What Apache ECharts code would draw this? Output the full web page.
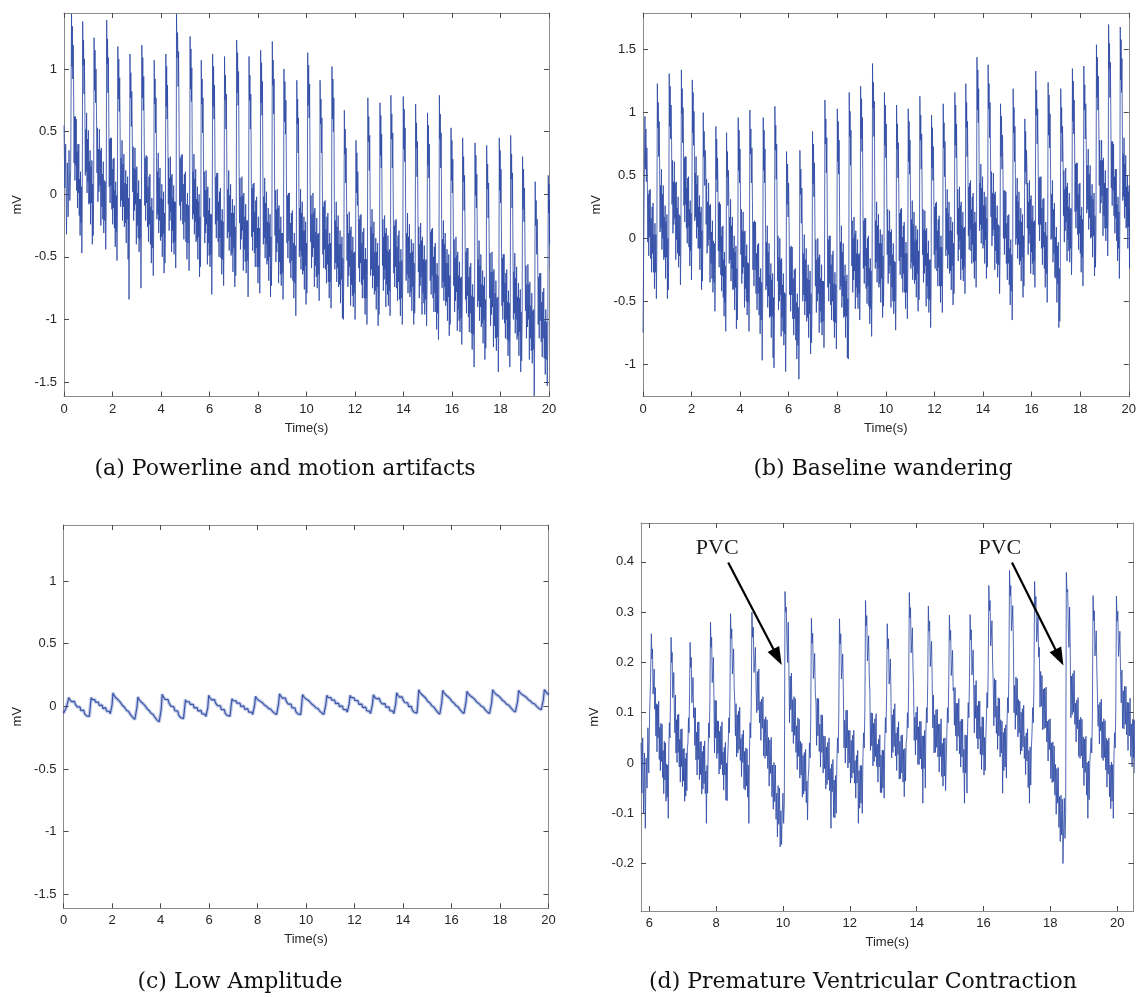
<!DOCTYPE html>
<html>
<head>
<meta charset="utf-8">
<script src="https://cdn.jsdelivr.net/npm/echarts@6/dist/echarts.min.js"></script>
<style>
  html, body { margin: 0; padding: 0; background: #ffffff; }
  #chart { width: 1139px; height: 997px; }
</style>
</head>
<body>
<div id="chart"></div>
<script>
// ---------------------------------------------------------------------------
// ECG records. Each record is a list of segment boundaries (s) and one row of
// samples (mV) per segment: the first row runs from the record start to the
// first R peak, every other row starts at an R peak and runs to the next one.
// ---------------------------------------------------------------------------

// (a) Powerline and motion artifacts
const boundsA = [0, 0.31, 0.77, 1.24, 1.76, 2.22, 2.72, 3.21, 3.72, 4.20, 4.64, 5.20, 5.66, 6.13, 6.62,
  7.12, 7.63, 8.11, 8.59, 9.07, 9.60, 10.05, 10.56, 11.05, 11.56, 12.04, 12.53, 13.03, 13.48, 13.99,
  14.50, 14.99, 15.48, 15.96, 16.44, 16.95, 17.43, 17.95, 18.42, 18.91, 19.43, 19.97, 20.10];
const waveA = [
  [.55,.05,.40,-.32,.25,-.18,.35,-.05,.20],
  [1.44,1.02,1.34,.92,1.19,.80,.25,.62,.11,.62,.23,.60,.03,.34,-.11,.40,.01,.40,-.17,.12,-.33,.18,-.23,.06,-.47,-.10],
  [1.38,1.03,1.23,.80,1.08,.70,.15,.52,.18,.65,.01,.44,.10,.51,-.08,.26,-.07,.35,-.24,.22,-.07,.27,-.40,.08,-.33,-.03],
  [1.25,.83,1.15,.73,1.00,.67,.17,.53,-.06,.36,.02,.52,.07,.35,-.25,.37,-.10,.16,-.20,.26,-.31,.11,-.21,.10,-.44,-.14],
  [1.39,1.04,1.24,.81,1.09,.60,.06,.44,-.07,.45,.07,.45,-.12,.20,-.24,.28,-.11,.29,-.27,.03,-.42,.10,-.30,-.01,-.53,-.15],
  [1.18,.76,1.08,.66,.93,.45,-.10,.29,-.05,.43,-.21,.24,-.10,.32,-.26,.09,-.23,.19,-.39,.08,-.20,.14,-.52,-.03,-.84,-.13],
  [1.12,.77,.97,.54,.82,.52,.02,.38,-.21,.21,-.13,.37,-.08,.20,-.40,.22,-.25,.01,-.35,.11,-.46,-.04,-.36,-.04,-.75,-.29],
  [1.19,.77,1.09,.67,.94,.45,-.09,.29,-.21,.31,-.07,.30,-.26,.06,-.38,.14,-.24,.16,-.40,-.10,-.55,-.03,-.43,-.13,-.65,-.27],
  [1.07,.72,.92,.49,.77,.35,-.20,.18,-.16,.33,-.31,.13,-.21,.21,-.37,-.03,-.34,.08,-.50,-.04,-.32,.02,-.63,-.15,-.55,-.25],
  [1.12,.70,1.02,.60,.87,.42,-.08,.29,-.29,.13,-.21,.30,-.14,.14,-.46,.16,-.29,-.03,-.39,.07,-.48,-.06,-.38,-.06,-.59,-.29],
  [1.44,1.09,1.29,.86,1.14,.45,-.09,.29,-.21,.31,-.06,.32,-.24,.08,-.36,.16,-.22,.18,-.38,-.08,-.52,.01,-.39,-.09,-.61,-.23],
  [1.26,.84,1.16,.74,1.01,.35,-.20,.18,-.16,.32,-.32,.12,-.22,.20,-.38,-.04,-.36,.06,-.52,-.06,-.34,.00,-.66,-.18,-.58,-.28],
  [1.07,.72,.92,.49,.77,.32,-.18,.18,-.39,.03,-.31,.19,-.24,.04,-.56,.06,-.39,-.13,-.49,-.03,-.58,-.16,-.48,-.16,-.80,-.39],
  [1.12,.70,1.02,.60,.87,.30,-.24,.14,-.35,.17,-.21,.17,-.38,-.06,-.50,.02,-.35,.05,-.51,-.21,-.64,-.12,-.52,-.22,-.73,-.35],
  [1.10,.75,.95,.52,.80,.20,-.35,.04,-.30,.19,-.45,-.01,-.34,.08,-.49,-.15,-.47,-.04,-.62,-.15,-.43,-.09,-.74,-.26,-.65,-.35],
  [1.23,.81,1.13,.71,.98,.27,-.23,.13,-.44,-.02,-.36,.14,-.29,-.01,-.61,.01,-.44,-.18,-.54,-.08,-.63,-.21,-.53,-.21,-.82,-.44],
  [1.10,.75,.95,.52,.80,.20,-.34,.05,-.45,.08,-.30,.09,-.47,-.14,-.58,-.05,-.43,-.02,-.58,-.27,-.71,-.18,-.58,-.27,-.79,-.40],
  [1.15,.73,1.05,.63,.90,.15,-.40,-.02,-.35,.13,-.51,-.07,-.40,.02,-.56,-.22,-.53,-.11,-.69,-.23,-.50,-.16,-.82,-.34,-.73,-.43],
  [1.22,.87,1.07,.64,.92,.17,-.33,.03,-.54,-.12,-.46,.04,-.39,-.11,-.71,-.09,-.54,-.28,-.64,-.18,-.73,-.31,-.63,-.31,-.84,-.54],
  [1.00,.58,.90,.48,.75,.15,-.39,-.01,-.51,.01,-.37,.01,-.55,-.23,-.67,-.15,-.53,-.13,-.69,-.39,-.83,-.31,-.71,-.41,-.97,-.55],
  [.91,.56,.76,.33,.61,.05,-.50,-.11,-.45,.04,-.60,-.15,-.49,-.06,-.64,-.29,-.61,-.18,-.76,-.29,-.57,-.22,-.88,-.39,-.79,-.48],
  [1.13,.71,1.03,.61,.88,.12,-.38,-.01,-.59,-.16,-.50,.01,-.43,-.14,-.74,-.11,-.57,-.30,-.66,-.19,-.75,-.32,-.64,-.31,-.85,-.54],
  [.91,.56,.76,.33,.61,.05,-.48,-.10,-.59,-.06,-.44,-.05,-.60,-.28,-.71,-.18,-.56,-.15,-.70,-.40,-.83,-.31,-.70,-.39,-.91,-.52],
  [1.02,.60,.92,.50,.77,-.05,-.60,-.21,-.55,-.06,-.70,-.26,-.59,-.17,-.74,-.40,-.72,-.29,-.87,-.40,-.68,-.34,-.99,-.51,-1.00,-.60],
  [.67,.32,.52,.09,.37,-.03,-.53,-.16,-.74,-.31,-.65,-.14,-.58,-.29,-.89,-.26,-.72,-.45,-.81,-.34,-.90,-.47,-.79,-.46,-1.00,-.69],
  [.43,.01,.33,-.09,.18,-.05,-.59,-.20,-.70,-.17,-.55,-.16,-.72,-.39,-.83,-.30,-.68,-.27,-.83,-.52,-.96,-.43,-.83,-.52,-1.04,-.65],
  [.77,.42,.62,.19,.47,-.10,-.65,-.26,-.60,-.12,-.75,-.31,-.65,-.22,-.80,-.46,-.77,-.35,-.92,-.46,-.74,-.39,-1.05,-.57,-.96,-.66],
  [.73,.31,.63,.21,.48,-.08,-.57,-.20,-.77,-.34,-.68,-.17,-.60,-.31,-.90,-.27,-.72,-.45,-.80,-.33,-.89,-.46,-.77,-.44,-.97,-.66],
  [.79,.44,.64,.21,.49,-.10,-.63,-.25,-.74,-.21,-.58,-.20,-.75,-.42,-.85,-.33,-.70,-.29,-.84,-.54,-.97,-.44,-.83,-.53,-1.04,-.65],
  [.78,.36,.68,.26,.53,-.15,-.69,-.31,-.64,-.15,-.79,-.34,-.67,-.24,-.82,-.47,-.78,-.36,-.93,-.46,-.74,-.39,-1.04,-.55,-.95,-.64],
  [.72,.37,.57,.14,.42,-.13,-.62,-.26,-.83,-.40,-.73,-.23,-.66,-.37,-.96,-.34,-.79,-.52,-.87,-.41,-.96,-.53,-.84,-.52,-1.05,-.74],
  [.65,.23,.55,.13,.40,-.15,-.69,-.30,-.80,-.28,-.65,-.27,-.83,-.50,-.94,-.42,-.79,-.39,-.94,-.64,-1.08,-.55,-.95,-.65,-1.16,-.78],
  [.79,.44,.64,.21,.49,-.20,-.75,-.36,-.70,-.21,-.85,-.40,-.74,-.31,-.89,-.55,-.86,-.44,-1.01,-.55,-.82,-.48,-1.13,-.65,-1.04,-.74],
  [.53,.11,.43,.01,.28,-.23,-.73,-.36,-.94,-.51,-.85,-.34,-.78,-.49,-1.09,-.46,-.92,-.65,-1.01,-.54,-1.10,-.67,-.99,-.66,-1.20,-.89],
  [.45,.10,.30,-.13,.15,-.30,-.84,-.46,-.95,-.43,-.81,-.43,-.98,-.66,-1.10,-.58,-.95,-.55,-1.11,-.81,-1.24,-.72,-1.12,-.82,-1.38,-.95],
  [.41,-.01,.31,-.11,.16,-.35,-.90,-.52,-.85,-.37,-1.01,-.57,-.90,-.48,-1.06,-.72,-1.03,-.61,-1.19,-.73,-1.00,-.66,-1.32,-.84,-1.23,-.93],
  [.39,.04,.24,-.19,.09,-.33,-.83,-.47,-1.05,-.62,-.96,-.46,-.90,-.62,-1.22,-.60,-1.05,-.79,-1.15,-.69,-1.25,-.83,-1.14,-.82,-1.42,-1.06],
  [.45,.03,.35,-.07,.20,-.35,-.89,-.51,-1.00,-.48,-.86,-.48,-1.03,-.71,-1.15,-.63,-1.00,-.60,-1.16,-.86,-1.29,-.77,-1.17,-.87,-1.38,-1.00],
  [.47,.12,.32,-.11,.17,-.45,-1.00,-.62,-.95,-.47,-1.11,-.67,-1.00,-.58,-1.16,-.82,-1.13,-.71,-1.29,-.83,-1.10,-.76,-1.42,-.94,-1.33,-1.03],
  [.30,-.12,.20,-.22,.05,-.43,-.93,-.57,-1.15,-.72,-1.06,-.56,-1.00,-.72,-1.32,-.70,-1.15,-.89,-1.25,-.79,-1.35,-.93,-1.24,-.92,-1.61,-1.16],
  [.10,-.25,-.05,-.48,-.20,-.50,-1.04,-.66,-1.15,-.63,-1.01,-.63,-1.18,-.86,-1.30,-.78,-1.15,-.75,-1.31,-1.01,-1.44,-.92,-1.32,-1.02,-1.53,-1.15],
  [.15,-.15,.08,-.40,-.05,-.60,-.30,-.72]
];

// (b) Baseline wandering
const boundsB = [0, 0.08, 0.59, 1.08, 1.58, 2.03, 2.48, 3.00, 3.44, 3.92, 4.40, 4.95, 5.43, 5.91, 6.46,
  6.98, 7.49, 8.00, 8.49, 8.96, 9.45, 9.94, 10.44, 10.92, 11.40, 11.88, 12.36, 12.84, 13.29, 13.75,
  14.21, 14.72, 15.24, 15.72, 16.17, 16.68, 17.20, 17.68, 18.15, 18.67, 19.17, 19.65, 20.10];
const waveB = [
  [-.75,.20],
  [.97,.55,.87,.45,.72,.50,-.03,.35,-.14,.38,.01,.39,-.16,.16,-.27,.25,-.12,.28,-.27,.03,-.40,.12,-.27,.03,-.48,-.10],
  [1.23,.88,1.08,.65,.93,.60,.05,.42,.08,.55,-.09,.35,.00,.42,-.17,.17,-.15,.26,-.32,.13,-.15,.19,-.48,.00,-.41,-.11],
  [1.31,.89,1.21,.79,1.06,.77,.27,.62,.04,.45,.11,.61,.16,.44,-.17,.45,-.01,.24,-.12,.33,-.23,.19,-.14,.18,-.37,-.07],
  [1.34,.99,1.19,.76,1.04,.80,.26,.64,.13,.65,.27,.65,.08,.40,-.04,.48,.09,.49,-.07,.23,-.22,.30,-.10,.20,-.33,.05],
  [1.26,.84,1.16,.74,1.01,.70,.14,.52,.17,.65,.00,.43,.09,.50,-.08,.25,-.08,.34,-.25,.21,-.08,.25,-.41,.06,-.34,-.05],
  [1.00,.65,.85,.42,.70,.62,.11,.47,-.12,.29,-.06,.44,-.01,.26,-.35,.27,-.20,.05,-.32,.14,-.43,-.02,-.35,-.04,-.58,-.29],
  [.89,.47,.79,.37,.64,.45,-.10,.28,-.23,.29,-.10,.27,-.29,.02,-.42,.09,-.30,.10,-.47,-.17,-.62,-.11,-.51,-.22,-.74,-.37],
  [.84,.49,.69,.26,.54,.35,-.20,.17,-.17,.31,-.34,.10,-.24,.17,-.41,-.08,-.40,.02,-.57,-.11,-.39,-.06,-.72,-.24,-.65,-.35],
  [.96,.54,.86,.44,.71,.37,-.13,.23,-.36,.06,-.28,.21,-.23,.05,-.55,.06,-.40,-.14,-.50,-.05,-.61,-.19,-.51,-.20,-.74,-.44],
  [1.02,.67,.87,.44,.72,.30,-.25,.13,-.38,.14,-.25,.13,-.44,-.12,-.57,-.05,-.44,-.04,-.61,-.31,-.76,-.24,-.65,-.35,-.97,-.50],
  [.96,.54,.86,.44,.71,.15,-.41,-.03,-.38,.10,-.55,-.11,-.46,-.04,-.63,-.29,-.62,-.20,-.79,-.33,-.62,-.28,-.95,-.47,-1.03,-.58],
  [1.05,.70,.90,.47,.75,.17,-.34,.02,-.57,-.15,-.50,.00,-.45,-.17,-.78,-.16,-.63,-.37,-.74,-.28,-.85,-.43,-.76,-.44,-1.06,-.69],
  [.69,.27,.59,.17,.44,.10,-.45,-.07,-.58,-.06,-.45,-.07,-.64,-.32,-.77,-.25,-.64,-.24,-.81,-.51,-.96,-.44,-.85,-.55,-1.12,-.70],
  [.70,.35,.55,.12,.40,.05,-.50,-.12,-.45,.03,-.61,-.17,-.50,-.08,-.66,-.32,-.63,-.21,-.79,-.33,-.60,-.26,-.92,-.44,-.83,-.53],
  [.85,.43,.75,.33,.60,.12,-.38,-.01,-.59,-.17,-.50,.00,-.44,-.15,-.75,-.13,-.58,-.32,-.67,-.21,-.77,-.34,-.66,-.34,-.87,-.57],
  [1.10,.75,.95,.52,.80,.15,-.39,-.01,-.50,.02,-.36,.02,-.53,-.21,-.65,-.13,-.50,-.10,-.66,-.36,-.79,-.27,-.67,-.37,-.88,-.50],
  [1.03,.61,.93,.51,.78,.15,-.41,-.03,-.38,.10,-.55,-.11,-.46,-.04,-.63,-.30,-.62,-.21,-.79,-.34,-.62,-.29,-.95,-.48,-.96,-.59],
  [1.16,.81,1.01,.58,.86,.27,-.22,.14,-.43,.00,-.33,.17,-.26,.03,-.56,.06,-.39,-.12,-.47,-.01,-.56,-.13,-.44,-.12,-.65,-.34],
  [1.21,.79,1.11,.69,.96,.30,-.24,.14,-.36,.16,-.22,.16,-.40,-.08,-.52,.00,-.38,.02,-.54,-.24,-.68,-.16,-.56,-.26,-.78,-.40],
  [1.39,1.04,1.24,.81,1.09,.30,-.24,.14,-.19,.29,-.35,.10,-.24,.19,-.39,-.04,-.36,.07,-.51,-.04,-.32,.03,-.63,-.14,-.54,-.23],
  [1.16,.74,1.06,.64,.91,.37,-.13,.23,-.36,.06,-.28,.22,-.22,.05,-.55,.07,-.39,-.13,-.50,-.04,-.60,-.18,-.50,-.19,-.73,-.43],
  [1.06,.71,.91,.48,.76,.35,-.18,.20,-.29,.23,-.15,.24,-.32,.01,-.43,.10,-.28,.13,-.43,-.12,-.56,-.03,-.43,-.12,-.64,-.25],
  [1.03,.61,.93,.51,.78,.30,-.24,.15,-.19,.30,-.33,.11,-.22,.21,-.36,-.02,-.33,.10,-.47,-.01,-.28,.07,-.58,-.10,-.49,-.18],
  [1.13,.78,.98,.55,.83,.37,-.13,.23,-.35,.07,-.28,.22,-.22,.06,-.54,.08,-.38,-.12,-.48,-.02,-.59,-.17,-.49,-.17,-.71,-.41],
  [.98,.56,.88,.46,.73,.40,-.13,.25,-.24,.28,-.09,.29,-.26,.06,-.38,.15,-.23,.18,-.38,-.07,-.51,.02,-.38,-.07,-.59,-.20],
  [1.07,.72,.92,.49,.77,.40,-.14,.24,-.09,.39,-.24,.20,-.13,.29,-.28,.06,-.26,.17,-.41,.06,-.22,.13,-.53,-.04,-.44,-.13],
  [1.16,.74,1.06,.64,.91,.52,.03,.39,-.18,.24,-.09,.41,-.02,.26,-.33,.29,-.16,.10,-.25,.21,-.34,.08,-.23,.09,-.44,-.14],
  [1.23,.88,1.08,.65,.93,.55,.02,.41,-.09,.44,.07,.46,-.10,.23,-.20,.33,-.05,.36,-.19,.12,-.32,.21,-.18,.13,-.39,.00],
  [1.44,1.02,1.34,.92,1.19,.60,.06,.44,.11,.59,-.04,.40,.07,.49,-.08,.26,-.05,.37,-.20,.26,-.01,.33,-.32,.16,-.23,.07],
  [1.38,1.03,1.23,.80,1.08,.67,.17,.53,-.06,.36,.02,.52,.07,.35,-.25,.37,-.10,.16,-.20,.26,-.31,.11,-.21,.10,-.44,-.14],
  [1.07,.65,.97,.55,.82,.55,.00,.38,-.13,.38,.00,.37,-.20,.12,-.33,.18,-.20,.19,-.37,-.08,-.53,-.01,-.42,-.13,-.65,-.28],
  [1.19,.84,1.04,.61,.89,.50,-.05,.34,.00,.48,-.16,.29,-.05,.37,-.21,.14,-.18,.24,-.34,.13,-.15,.19,-.47,.02,-.38,-.08],
  [.95,.53,.85,.43,.70,.57,.08,.44,-.13,.29,-.04,.46,.03,.31,-.28,.34,-.11,.15,-.20,.26,-.29,.13,-.18,.14,-.39,-.09],
  [1.33,.98,1.18,.75,1.03,.65,.11,.48,-.02,.49,.11,.49,-.08,.24,-.21,.31,-.07,.32,-.24,.05,-.39,.13,-.28,.02,-.51,-.13],
  [1.24,.82,1.14,.72,.99,.55,-.01,.35,.00,.46,-.19,.23,-.12,.28,-.31,.01,-.32,.09,-.51,-.06,-.36,-.03,-.71,-.24,-.66,-.37],
  [1.19,.84,1.04,.61,.89,.67,.18,.54,-.03,.39,.06,.56,.13,.41,-.18,.44,-.01,.25,-.10,.36,-.19,.23,-.08,.24,-.29,.01],
  [1.35,.93,1.25,.83,1.10,.75,.21,.59,.08,.60,.22,.60,.03,.35,-.09,.43,.04,.44,-.12,.18,-.27,.25,-.15,.15,-.38,.00],
  [1.37,1.02,1.22,.79,1.07,.75,.20,.58,.23,.71,.07,.51,.16,.58,.00,.34,.01,.43,-.15,.31,.02,.36,-.30,.18,-.23,.07],
  [1.54,1.12,1.44,1.02,1.29,.92,.42,.78,.20,.62,.28,.78,.34,.62,.02,.64,.18,.44,.08,.54,-.02,.40,.08,.40,-.14,.16],
  [1.70,1.35,1.55,1.12,1.40,.95,.40,.77,.26,.77,.38,.75,.18,.49,.04,.55,.16,.55,-.02,.27,-.18,.33,-.08,.21,-.32,.05],
  [1.68,1.26,1.58,1.16,1.43,.85,.30,.67,.33,.80,.16,.59,.25,.66,.08,.41,.09,.50,-.08,.37,.09,.42,-.24,.23,-.17,.12]
];

// (c) Low amplitude
const boundsC = [0, 0.22, 1.14, 2.04, 3.07, 4.07, 5.03, 5.99, 6.95, 7.92, 8.91, 9.86, 10.86, 11.82,
  12.78, 13.74, 14.65, 15.64, 16.64, 17.70, 18.77, 19.83, 20.05];
const waveC = [
  [-.055,-.040,-.048,-.020,-.010,.020,.045],
  [.070,.053,.064,.037,.048,.027,.040,.015,.024,-.005,.004,-.016,-.005,-.034,-.023,-.040,-.031,-.060,-.049,-.076,-.065,-.086,-.080,-.010],
  [.070,.054,.066,.041,.053,.033,.047,.023,.033,.006,.016,-.002,.010,-.018,-.005,-.021,-.011,-.039,-.027,-.053,-.040,-.060,-.052,.010],
  [.107,.087,.096,.066,.074,.051,.061,.033,.040,.008,.014,-.007,.001,-.031,-.022,-.042,-.036,-.068,-.059,-.089,-.081,-.104,-.098,-.010],
  [.075,.056,.065,.036,.045,.022,.032,.005,.012,-.019,-.012,-.033,-.024,-.055,-.046,-.065,-.058,-.090,-.081,-.110,-.101,-.124,-.120,-.025],
  [.096,.077,.086,.056,.065,.042,.053,.026,.033,.001,.008,-.013,-.004,-.035,-.027,-.046,-.039,-.070,-.061,-.090,-.082,-.105,-.098,-.020],
  [.053,.037,.049,.023,.035,.015,.029,.005,.015,-.013,-.004,-.022,-.010,-.038,-.026,-.042,-.032,-.060,-.048,-.074,-.062,-.082,-.075,-.010],
  [.088,.070,.080,.052,.063,.041,.053,.027,.035,.005,.013,-.006,.004,-.026,-.016,-.034,-.026,-.056,-.045,-.073,-.063,-.085,-.078,.000],
  [.061,.045,.058,.032,.044,.025,.039,.015,.026,-.002,.008,-.009,.003,-.025,-.012,-.028,-.018,-.046,-.033,-.059,-.047,-.066,-.060,.010],
  [.080,.063,.075,.048,.060,.039,.053,.028,.038,.009,.019,.000,.011,-.017,-.006,-.022,-.013,-.041,-.030,-.056,-.045,-.066,-.060,.020],
  [.101,.083,.093,.065,.076,.054,.066,.040,.048,.018,.026,.007,.017,-.013,-.003,-.021,-.013,-.043,-.032,-.060,-.050,-.072,-.066,.010],
  [.095,.078,.089,.061,.072,.051,.064,.038,.047,.018,.027,.007,.018,-.011,.000,-.017,-.009,-.038,-.027,-.054,-.044,-.065,-.058,.015],
  [.088,.072,.084,.058,.070,.050,.064,.040,.050,.022,.032,.013,.025,-.003,.009,-.007,.003,-.025,-.013,-.039,-.027,-.047,-.042,.020],
  [.088,.071,.083,.056,.067,.047,.060,.036,.045,.016,.026,.007,.018,-.010,.001,-.016,-.006,-.035,-.024,-.050,-.039,-.059,-.054,.015],
  [.093,.076,.087,.060,.072,.051,.064,.039,.048,.019,.028,.010,.021,-.008,.003,-.014,-.005,-.034,-.022,-.049,-.038,-.059,-.054,.020],
  [.109,.091,.102,.074,.085,.063,.075,.050,.058,.029,.037,.018,.028,-.002,.009,-.009,.000,-.030,-.020,-.047,-.037,-.058,-.054,.030],
  [.133,.114,.123,.094,.103,.080,.091,.064,.071,.040,.048,.027,.036,.005,.014,-.005,.002,-.029,-.020,-.049,-.040,-.063,-.058,.030],
  [.128,.110,.119,.091,.100,.078,.089,.063,.070,.040,.048,.027,.037,.006,.016,-.003,.005,-.026,-.016,-.045,-.035,-.057,-.052,.035],
  [.120,.102,.112,.084,.094,.072,.083,.057,.065,.035,.043,.023,.033,.003,.013,-.005,.003,-.028,-.018,-.046,-.036,-.058,-.053,.030],
  [.133,.115,.125,.097,.107,.085,.096,.070,.078,.048,.056,.036,.046,.016,.026,.008,.016,-.015,-.005,-.033,-.023,-.045,-.040,.040],
  [.128,.111,.122,.095,.106,.085,.098,.073,.082,.053,.062,.042,.053,.024,.035,.018,.027,-.002,.009,-.018,-.007,-.028,-.025,.050],
  [.133,.118,.126,.104,.110,.092]
];

// (d) Premature ventricular contraction
const boundsD = [5.75, 6.06, 6.65, 7.22, 7.83, 8.43, 9.07, 10.06, 10.85, 11.69, 12.47, 13.12, 13.78,
  14.35, 14.98, 15.60, 16.16, 16.78, 17.53, 18.48, 19.28, 19.98, 20.55];
const waveD = [
  [.040,-.060,.050,-.100,.020,-.130,.010,-.050,.070,-.020,.100,.160],
  [.257,.207,.227,.137,.157,.187,.107,.150,.054,.118,.022,.116,.050,.123,.007,.071,-.015,.079,.003,.077,-.029,.025,-.061,.043,-.034,.040,-.076,-.002,-.068,-.004,-.110,.030,.080,.050,.130],
  [.250,.200,.220,.130,.150,.180,.100,.060,.135,.020,.086,.001,.096,.021,.097,-.008,.047,-.038,.067,-.007,.068,-.047,.028,-.036,.029,-.076,.009,-.066,.020,-.055,.030,.040,.090,.060,.140],
  [.240,.190,.210,.120,.140,.170,.090,.110,.035,.110,.006,.061,-.024,.081,.007,.082,-.033,.042,-.023,.043,-.062,.023,-.052,.034,-.041,.044,-.061,-.016,-.120,-.005,-.060,.030,.080,.050,.130],
  [.280,.230,.250,.160,.180,.210,.130,.020,.125,.050,.124,.009,.084,.019,.083,-.022,.063,-.012,.073,-.003,.082,-.023,.022,-.054,.031,-.024,.041,-.074,.000,-.075,.010,.040,.090,.060,.140],
  [.297,.247,.267,.177,.197,.227,.147,.120,.054,.118,.012,.096,.020,.103,.027,.111,.005,.049,-.027,.057,.001,.065,-.051,.023,-.054,.030,-.046,.028,-.068,-.004,-.120,.030,.080,.050,.130],
  [.300,.250,.270,.180,.200,.230,.150,.100,.182,.105,.187,.080,.122,.045,.127,.069,.132,.014,.087,.009,.092,.014,.086,-.011,.051,-.046,.046,-.021,.051,-.067,-.004,-.092,.001,-.077,-.004,-.112,-.060,-.147,-.045,-.122,-.050,-.167,-.095,-.162,-.100,-.060,-.120,-.080],
  [.341,.300,.310,.240,.200,.280,.190,.080,.173,.106,.179,.062,.126,.039,.132,.055,.128,.021,.074,-.013,.090,.013,.087,-.030,.043,-.024,.039,-.068,.015,-.062,.021,-.056,.027,-.079,-.036,-.113,-.030,-.010,.040,.010,.090],
  [.288,.238,.258,.168,.188,.218,.138,.120,.035,.129,.054,.128,.023,.077,-.008,.096,.021,.095,-.020,.054,-.011,.053,-.052,.032,-.043,.041,-.034,.050,-.055,-.011,-.130,-.002,-.057,.007,-.108,-.034,-.109,-.025,-.100,.000,.050,.020,.100],
  [.287,.237,.257,.167,.187,.217,.137,.030,.085,.000,.105,.030,.105,-.010,.065,.000,.065,-.040,.045,-.030,.055,-.020,.065,-.040,.005,-.070,.015,-.040,.025,-.120,-.015,-.090,-.005,-.080,-.005,-.100,.010,.060,.030,.110],
  [.323,.273,.293,.203,.223,.253,.173,.140,.025,.100,.034,.099,-.006,.079,.003,.088,.013,.098,-.007,.037,-.038,.047,-.008,.056,-.059,.016,-.059,.026,-.050,.025,-.070,.040,.090,.060,.140],
  [.277,.227,.247,.157,.177,.207,.127,.010,.096,.021,.107,.033,.118,.014,.060,-.015,.071,.017,.082,-.032,.043,-.031,.055,-.020,.056,-.038,.027,-.067,.029,-.036,.040,.050,.100,.070,.150],
  [.339,.289,.309,.219,.239,.269,.189,.150,.045,.091,.016,.101,.046,.112,-.003,.072,-.003,.083,.008,.083,-.012,.054,-.080,.054,-.011,.065,-.050,.060,.110,.080,.160],
  [.312,.262,.282,.192,.212,.242,.162,.070,.135,.020,.096,.021,.106,.031,.107,.012,.077,-.018,.078,.013,.088,-.027,.039,-.046,.049,-.026,.050,-.055,.000,.060,.110,.080,.160],
  [.294,.244,.264,.174,.194,.224,.144,.150,.075,.150,.054,.119,.024,.119,.053,.128,.018,.083,-.008,.087,.012,.087,-.019,.027,-.080,.056,-.020,.055,-.060,.070,.120,.090,.170],
  [.295,.245,.265,.175,.195,.225,.145,.060,.155,.089,.164,.049,.114,.028,.123,.048,.123,.017,.072,-.013,.092,.016,.091,-.024,.051,-.015,.050,.090,.140,.110,.190],
  [.353,.303,.323,.233,.253,.283,.203,.160,.074,.168,.091,.165,.059,.113,.027,.130,.054,.128,.012,.086,.020,.083,-.060,.061,-.015,.069,-.008,.076,-.030,.080,.130,.100,.180],
  [.383,.333,.353,.263,.283,.313,.233,.100,.154,.067,.171,.095,.168,.052,.126,.060,.123,.017,.101,.024,.108,.032,.115,.009,.053,-.023,.060,.004,.068,-.049,.025,-.080,.032,-.044,.030,.060,.110,.080,.160],
  [.361,.311,.331,.241,.261,.291,.211,.230,.111,.182,.113,.174,.066,.147,.068,.149,.070,.151,.042,.083,.004,.086,.027,.088,-.031,.040,-.039,.042,-.037,.034,-.064,-.003,-.102,-.011,-.080,-.009,-.128,-.067,-.156,-.064,-.143,-.072,-.200,-.130,-.070,-.150,-.100],
  [.379,.340,.345,.270,.230,.310,.220,.090,.173,.096,.178,.101,.184,.077,.119,.042,.125,.068,.130,.013,.086,.009,.091,.014,.087,-.010,.052,-.045,.048,-.019,.053,-.064,.001,-.110,.004,-.073,.000,.000,.050,.020,.100],
  [.333,.283,.303,.213,.233,.263,.183,.180,.073,.116,.038,.121,.064,.127,.010,.082,.005,.088,.011,.084,-.014,.049,-.048,.045,-.022,.050,-.067,-.004,-.091,.002,-.076,-.003,-.110,.010,.060,.030,.110],
  [.332,.282,.302,.212,.232,.262,.182,.120,.185,.069,.144,.068,.153,.077,.152,.056,.121,.025,.120,.054,.129,.013,.078,-.008,.087,.011,.086,-.020]
];

// Tick values
const timeTicks = [0, 2, 4, 6, 8, 10, 12, 14, 16, 18, 20];
const timeTicksD = [6, 8, 10, 12, 14, 16, 18, 20];
const mvTicksA = [-1.5, -1, -0.5, 0, 0.5, 1];
const mvTicksB = [-1, -0.5, 0, 0.5, 1, 1.5];
const mvTicksC = [-1.5, -1, -0.5, 0, 0.5, 1];
const mvTicksD = [-0.2, -0.1, 0, 0.1, 0.2, 0.3, 0.4];

// PVC annotations in panel (d): label position, arrow tail, arrow head (time s, mV)
const pvcLabels = [[8.03, 0.427], [16.49, 0.427]];
const pvcArrows = [
  [[8.36, 0.399], [9.837, 0.211]],
  [[16.853, 0.399], [18.273, 0.210]]
];

// Sub-figure captions
const captions = ['(a) Powerline and motion artifacts', '(b) Baseline wandering',
  '(c) Low Amplitude', '(d) Premature Ventricular Contraction'];

// ---------------------------------------------------------------------------

// Lay the samples of each segment evenly between its two boundaries.
function trace(bounds, rows) {
  const pts = [];
  rows.forEach((row, k) => {
    const t0 = bounds[k];
    const step = (bounds[k + 1] - t0) / row.length;
    row.forEach((v, j) => pts.push([t0 + j * step, v]));
  });
  return pts;
}

const SANS = '"Liberation Sans", Arial, Helvetica, sans-serif';
const SERIF = '"DejaVu Serif", serif';
const BOX = '#8c8c8c';
const TICK = '#4a4a4a';
const INK = '#262626';
const TRACE = '#2b48a3';

// halo: width of a faint underlay that gives the low-amplitude trace its noisy, soft edge
const panels = [
  { grid: { left: 64, top: 13, width: 485, height: 383.5 }, x: [0, 20], y: [-1.615, 1.447],
    xt: timeTicks, yt: mvTicksA, bounds: boundsA, wave: waveA, lw: 0.9, op: 0.9, halo: 0, cap: [285, 469] },
  { grid: { left: 643, top: 13, width: 486, height: 383.5 }, x: [0, 20], y: [-1.258, 1.792],
    xt: timeTicks, yt: mvTicksB, bounds: boundsB, wave: waveB, lw: 0.9, op: 0.9, halo: 0, cap: [883, 469] },
  { grid: { left: 63.5, top: 525, width: 485, height: 383.3 }, x: [0, 20], y: [-1.612, 1.447],
    xt: timeTicks, yt: mvTicksC, bounds: boundsC, wave: waveC, lw: 1.2, op: 0.9, halo: 3.6, cap: [240, 982] },
  { grid: { left: 641, top: 523, width: 492.5, height: 388 }, x: [5.75, 20.49], y: [-0.2944, 0.4774],
    xt: timeTicksD, yt: mvTicksD, bounds: boundsD, wave: waveD, lw: 0.9, op: 0.9, halo: 0, cap: [863, 982] }
];

const grids = [], xAxes = [], yAxes = [], series = [], graphics = [];

panels.forEach((p, i) => {
  grids.push(Object.assign({ containLabel: false }, p.grid));
  const common = (ticks) => ({
    type: 'value', gridIndex: i, splitLine: { show: false },
    axisLine: { show: true, onZero: false, lineStyle: { color: BOX, width: 1 } },
    axisTick: { show: true, inside: true, length: 5, customValues: ticks, lineStyle: { color: TICK, width: 1 } }
  });
  const label = (ticks, margin) => ({ show: true, customValues: ticks, margin: margin,
    fontFamily: SANS, fontSize: 13, color: INK });
  xAxes.push(Object.assign(common(p.xt), {
    position: 'bottom', min: p.x[0], max: p.x[1],
    axisLabel: label(p.xt, 6),
    name: 'Time(s)', nameLocation: 'middle', nameGap: 25,
    nameTextStyle: { fontFamily: SANS, fontSize: 13, color: INK }
  }));
  xAxes.push(Object.assign(common(p.xt), {
    position: 'top', min: p.x[0], max: p.x[1], axisLabel: { show: false }
  }));
  yAxes.push(Object.assign(common(p.yt), {
    position: 'left', min: p.y[0], max: p.y[1],
    axisLabel: label(p.yt, 7),
    name: 'mV', nameLocation: 'middle', nameGap: 40,
    nameTextStyle: { fontFamily: SANS, fontSize: 13, color: INK }
  }));
  yAxes.push(Object.assign(common(p.yt), {
    position: 'right', min: p.y[0], max: p.y[1], axisLabel: { show: false }
  }));

  const data = trace(p.bounds, p.wave);
  if (p.halo) {
    series.push({
      type: 'line', xAxisIndex: 2 * i, yAxisIndex: 2 * i, data: data, z: 1,
      showSymbol: false, symbol: 'none', silent: true, animation: false, clip: true,
      lineStyle: { color: TRACE, width: p.halo, opacity: 0.28 }
    });
  }
  const s = {
    type: 'line', xAxisIndex: 2 * i, yAxisIndex: 2 * i, data: data, z: 2,
    showSymbol: false, symbol: 'none', silent: true, animation: false, clip: true,
    lineStyle: { color: TRACE, width: p.lw, opacity: p.op }
  };
  if (i === 3) {
    s.markLine = {
      silent: true, animation: false, symbol: ['none', 'triangle'], symbolSize: [13, 18],
      label: { show: false },
      lineStyle: { color: '#000', width: 2.2, type: 'solid' },
      emphasis: { disabled: true },
      data: pvcArrows.map(a => [{ coord: a[0] }, { coord: a[1] }])
    };
    s.markPoint = {
      silent: true, animation: false, symbol: 'rect', symbolSize: 1,
      itemStyle: { color: 'rgba(0,0,0,0)' },
      label: { show: true, position: 'inside', formatter: 'PVC',
        fontFamily: '"Liberation Serif", "Times New Roman", serif', fontSize: 22, color: '#1a1a1a' },
      data: pvcLabels.map(c => ({ coord: c }))
    };
  }
  series.push(s);

  graphics.push({
    type: 'text', x: p.cap[0], y: p.cap[1], silent: true,
    style: { text: captions[i], fontFamily: SERIF, fontSize: 22, fill: '#111',
      align: 'center', verticalAlign: 'middle', textAlign: 'center', textVerticalAlign: 'middle' }
  });
});

const chart = echarts.init(document.getElementById('chart'), null, { renderer: 'canvas' });
chart.setOption({
  backgroundColor: '#ffffff',
  animation: false,
  grid: grids,
  xAxis: xAxes,
  yAxis: yAxes,
  series: series,
  graphic: graphics
});
</script>
</body>
</html>
